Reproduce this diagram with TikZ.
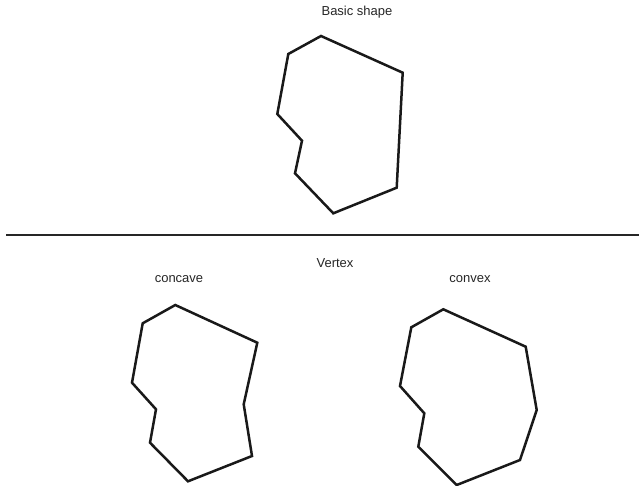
\documentclass[tikz,border=0pt]{standalone}
\usepackage{fontspec}
\setmainfont{Liberation Sans}
\begin{document}
\begin{tikzpicture}[x=1pt,y=-1pt,
  shape line/.style={draw=black!90, line width=2.5pt, line join=miter},
  divider/.style={draw=black!85, line width=2.6pt},
  label text/.style={font=\fontsize{13}{15}\selectfont, text=black!85, inner sep=0pt}]
\useasboundingbox (0,0) rectangle (639,486);
% titles
\node[label text] (basic) at (357,12) {Basic shape};
\node[label text] (vertex) at (335,263) {Vertex};
\node[label text] (concave) at (179,279) {concave};
\node[label text] (convex) at (470,279) {convex};
% divider
\coordinate (dl) at (6,235);
\coordinate (dr) at (639,235);
\draw[divider] (dl) -- (dr);
% basic shape
\draw[shape line] (321,36) -- (402.7,72.7) -- (396.7,187.7) -- (333.3,213.3) -- (295,173.3) -- (302,140.7) -- (277.3,114) -- (288.3,54) -- cycle;
% concave
\draw[shape line] (175.3,305) -- (257.3,342.7) -- (243.7,404.3) -- (252,456) -- (188,481.3) -- (150,442.7) -- (156,409.3) -- (132,382.7) -- (142.7,323.3) -- cycle;
% convex
\draw[shape line] (443.3,309.3) -- (525.7,346.7) -- (536.7,410) -- (520,460) -- (456.7,485) -- (418.3,446.7) -- (424.3,413.3) -- (400,386) -- (411.3,327.3) -- cycle;
\end{tikzpicture}
\end{document}
